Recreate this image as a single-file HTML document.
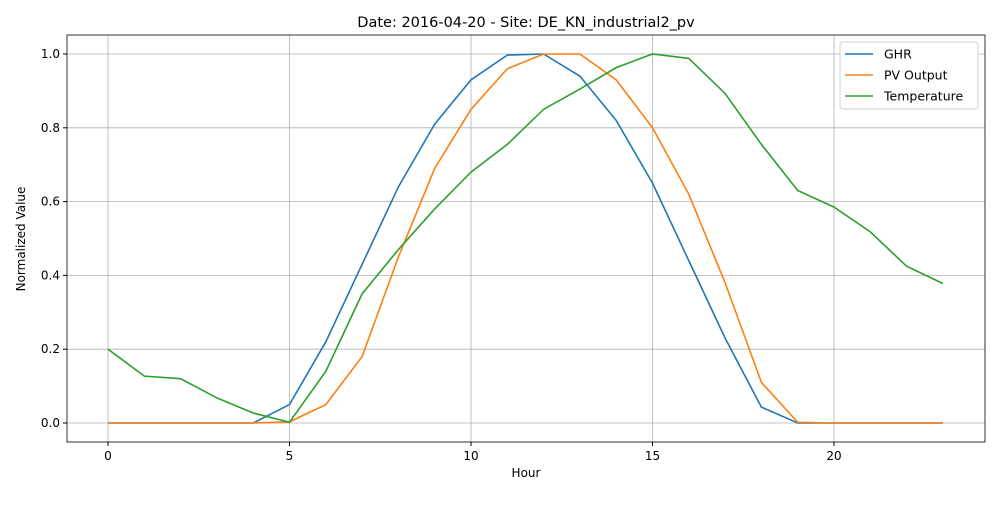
<!DOCTYPE html>
<html><head><meta charset="utf-8"><style>
body{margin:0;background:#fff;font-family:"Liberation Sans","DejaVu Sans",sans-serif}
svg text{font-family:"DejaVu Sans","Liberation Sans",sans-serif}
</style></head><body>
<svg id="c" width="1000" height="500"></svg>
<script>
const hours=[0,1,2,3,4,5,6,7,8,9,10,11,12,13,14,15,16,17,18,19,20,21,22,23];
const ghr=[0,0,0,0,0,0.05,0.22,0.43,0.64,0.81,0.93,0.997,1.0,0.94,0.82,0.65,0.44,0.23,0.043,0,0,0,0,0];
const pv=[0,0,0,0,0,0.003,0.05,0.18,0.45,0.69,0.85,0.96,1.0,1.0,0.93,0.80,0.62,0.38,0.11,0.002,0,0,0,0];
const temp=[0.2,0.127,0.12,0.068,0.027,0.002,0.14,0.35,0.47,0.58,0.68,0.755,0.85,0.905,0.963,1.0,0.988,0.893,0.755,0.63,0.585,0.518,0.425,0.378];
const xTicks=[0,5,10,15,20];
const yTicks=[0,0.2,0.4,0.6,0.8,1.0];
const seriesNames=["GHR","PV Output","Temperature"];
const colors=["#1f77b4","#ff7f0e","#2ca02c"];
const L=67,R=985,T=35,B=442;
const X=v=>108+v*36.3;
const Y=v=>423-v*369;
const svg=document.getElementById('c');
const NS="http://www.w3.org/2000/svg";
function el(t,a,p){const e=document.createElementNS(NS,t);for(const k in a)e.setAttribute(k,a[k]);(p||svg).appendChild(e);return e;}
xTicks.forEach(t=>{
 const g=el('line',{x1:X(t),x2:X(t),y1:T,y2:B,stroke:'#b0b0b0','stroke-width':0.8});
 
 el('line',{x1:X(t),x2:X(t),y1:B,y2:B+4,stroke:'#000'});
 const tx=el('text',{x:X(t),y:B+18,'text-anchor':'middle','font-size':12});tx.textContent=t;
 
});
yTicks.forEach(t=>{
 const g=el('line',{x1:L,x2:R,y1:Y(t),y2:Y(t),stroke:'#b0b0b0','stroke-width':0.8});
 
 el('line',{x1:L-4,x2:L,y1:Y(t),y2:Y(t),stroke:'#000'});
 const tx=el('text',{x:L-7,y:Y(t)+4,'text-anchor':'end','font-size':12});tx.textContent=t.toFixed(1);
 
});
[ghr,pv,temp].forEach((s,i)=>{
 const p=el('polyline',{points:s.map((v,j)=>X(hours[j])+','+Y(v)).join(' '),fill:'none',stroke:colors[i],'stroke-width':1.6});
 
 
});
const fr=el('rect',{x:L,y:T,width:R-L,height:B-T,fill:'none',stroke:'#000','stroke-width':0.8});

const ti=el('text',{x:526,y:27,'text-anchor':'middle','font-size':14.5});ti.textContent='Date: 2016-04-20 - Site: DE_KN_industrial2_pv';

const xl=el('text',{x:526,y:477,'text-anchor':'middle','font-size':12});xl.textContent='Hour';

const yl=el('text',{x:25,y:239,'text-anchor':'middle','font-size':12,transform:'rotate(-90 25 239)'});yl.textContent='Normalized Value';

const lg=el('rect',{x:840,y:42,width:138,height:67,fill:'#fff',stroke:'#d0d0d0',rx:3});

seriesNames.forEach((n,i)=>{
 const y=54+i*21;
 el('line',{x1:845,x2:873,y1:y,y2:y,stroke:colors[i],'stroke-width':1.6});
 const t=el('text',{x:884,y:y+4.5,'font-size':12.5});t.textContent=n;
 
});
</script>
</body></html>
